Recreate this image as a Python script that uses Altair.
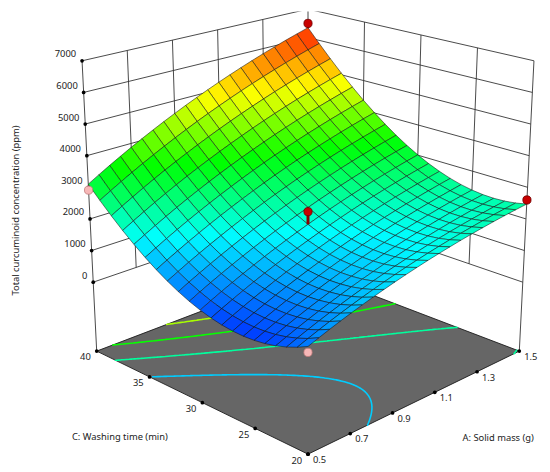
import numpy as np
import pandas as pd
import altair as alt

# ---------------- values ----------------
# fitted quadratic response surface, coded units (x1 = A, x2 = C), in ppm
coef_terms = ["intercept", "A", "C", "AC", "A^2", "C^2"]
coef_values = [2000.0, 1205.0, 1520.0, 420.0, -195.0, 1400.0]

a_range = [0.5, 1.5]
c_range = [20.0, 40.0]
a_ticks = [0.5, 0.7, 0.9, 1.1, 1.3, 1.5]
a_labels = ["0.5", "0.7", "0.9", "1.1", "1.3", "1.5"]
c_ticks = [20.0, 25.0, 30.0, 35.0, 40.0]
c_labels = ["20", "25", "30", "35", "40"]
z_ticks = [0.0, 1000.0, 2000.0, 3000.0, 4000.0, 5000.0, 6000.0, 7000.0]
z_labels = ["0", "1000", "2000", "3000", "4000", "5000", "6000", "7000"]
z_floor = -2180.0
z_top = 7000.0

# design points (red = above the surface, pink = below)
pt_a = [1.5, 1.5, 1.0, 0.5, 0.5]
pt_c = [40.0, 20.0, 30.0, 40.0, 20.0]
pt_z = [6500.0, 2600.0, 2400.0, 2910.0, 730.0]
pt_kind = ["above", "above", "above", "below", "below"]

contour_levels = [1500.0, 2450.0, 3400.0, 4350.0, 5300.0]
mesh_div = 20
colour_stops = ["#0038ff", "#00ffff", "#00ff00", "#ffff00", "#ff1a00"]

title_a = "A: Solid mass (g)"
title_c = "C: Washing time (min)"
title_z = "Total curcuminoid concentration (ppm)"

# ---------------- view (camera) parameters ----------------
VIEW = dict(cx=312.5, half_width=218.0, widen=1.62,
            front_y=380.0, front_rise=35.5,
            side_y=282.8, side_rise=32.1,
            back_y=208.0, back_rise=28.9)
MARGIN = 8
PROJ = dict(type="identity", scale=1, translate=[-MARGIN, -MARGIN])
FONT = "Noto Sans"


def response(a, c):
    x1 = (a - (a_range[0] + a_range[1]) / 2) / ((a_range[1] - a_range[0]) / 2)
    x2 = (c - (c_range[0] + c_range[1]) / 2) / ((c_range[1] - c_range[0]) / 2)
    b0, b1, b2, b12, b11, b22 = coef_values
    return b0 + b1 * x1 + b2 * x2 + b12 * x1 * x2 + b11 * x1 ** 2 + b22 * x2 ** 2


def proj(a, c, z):
    u = (a - a_range[0]) / (a_range[1] - a_range[0])
    v = (c - c_range[0]) / (c_range[1] - c_range[0])
    k = z / 1000.0
    half = VIEW["half_width"] + VIEW["widen"] * k
    x = VIEW["cx"] + half * (u - v)
    yf = VIEW["front_y"] - VIEW["front_rise"] * k
    ys = VIEW["side_y"] - VIEW["side_rise"] * k
    yb = VIEW["back_y"] - VIEW["back_rise"] * k
    y = (1 - u) * (1 - v) * yf + (u + v - 2 * u * v) * ys + u * v * yb
    return [float(x), float(y)]


def feature(gtype, coords, **props):
    return {"type": "Feature", "geometry": {"type": gtype, "coordinates": coords},
            "properties": props}


a0, a1 = a_range
c0, c1 = c_range

# walls
wall_feats = []
for a in a_ticks:
    zs = z_floor if a in (a0, a1) else z_ticks[0]
    wall_feats.append(feature("LineString", [proj(a, c1, zs), proj(a, c1, z_top)]))
for c in c_ticks[:-1]:
    zs = z_floor if c == c0 else z_ticks[0]
    wall_feats.append(feature("LineString", [proj(a1, c, zs), proj(a1, c, z_top)]))
for z in z_ticks:
    wall_feats.append(feature("LineString", [proj(a0, c1, z), proj(a1, c1, z)]))
    wall_feats.append(feature("LineString", [proj(a1, c0, z), proj(a1, c1, z)]))

# floor
ring = [proj(a0, c0, z_floor), proj(a1, c0, z_floor), proj(a1, c1, z_floor),
        proj(a0, c1, z_floor), proj(a0, c0, z_floor)]
floor_feats = [feature("Polygon", [ring])]

# colour scale from model range
ga = np.linspace(a0, a1, 101)
gc = np.linspace(c0, c1, 101)
GA, GC = np.meshgrid(ga, gc, indexing="ij")
GZ = response(GA, GC)
zmin, zmax = float(GZ.min()), float(GZ.max())
colour_scale = alt.Scale(domain=[float(d) for d in np.linspace(zmin, zmax, 5)],
                         range=colour_stops, interpolate="rgb")

# contours on the floor (marching squares)
n = 120
ca = np.linspace(a0, a1, n + 1)
cc = np.linspace(c0, c1, n + 1)
CA, CC = np.meshgrid(ca, cc, indexing="ij")
CZ = response(CA, CC)
contour_feats = []
for level in contour_levels:
    lines = []
    for i in range(n):
        for j in range(n):
            corners = [(CA[i, j], CC[i, j], CZ[i, j]), (CA[i + 1, j], CC[i + 1, j], CZ[i + 1, j]),
                       (CA[i + 1, j + 1], CC[i + 1, j + 1], CZ[i + 1, j + 1]),
                       (CA[i, j + 1], CC[i, j + 1], CZ[i, j + 1])]
            pts = []
            for k in range(4):
                p = corners[k]
                q = corners[(k + 1) % 4]
                if (p[2] - level) * (q[2] - level) < 0:
                    t = (level - p[2]) / (q[2] - p[2])
                    pts.append(proj(p[0] + t * (q[0] - p[0]), p[1] + t * (q[1] - p[1]), z_floor))
            if len(pts) == 2:
                lines.append(pts)
            elif len(pts) == 4:
                lines.append(pts[:2])
                lines.append(pts[2:])
    if lines:
        contour_feats.append(feature("MultiLineString", lines, level=level))

# surface mesh cells, back to front
ma = np.linspace(a0, a1, mesh_div + 1)
mc = np.linspace(c0, c1, mesh_div + 1)
cells = []
for i in range(mesh_div):
    for j in range(mesh_div):
        quad = [(ma[i], mc[j]), (ma[i + 1], mc[j]), (ma[i + 1], mc[j + 1]), (ma[i], mc[j + 1])]
        zs = [response(a, c) for a, c in quad]
        coords = [proj(a, c, z) for (a, c), z in zip(quad, zs)]
        coords.append(coords[0])
        cells.append((i + j, feature("Polygon", [coords], z=float(np.mean(zs)))))
cells.sort(key=lambda t: -t[0])
cell_feats = [f for _, f in cells]

# stems for points above the surface
stem_feats = []
for a, c, z, kind in zip(pt_a, pt_c, pt_z, pt_kind):
    if kind == "above":
        stem_feats.append(feature("LineString", [proj(a, c, response(a, c)), proj(a, c, z)]))

# tick dots and labels
z_df = pd.DataFrame({"lon": [proj(a0, c1, z)[0] for z in z_ticks],
                     "lat": [proj(a0, c1, z)[1] for z in z_ticks], "label": z_labels})
c_df = pd.DataFrame({"lon": [proj(a0, c, z_floor)[0] for c in c_ticks],
                     "lat": [proj(a0, c, z_floor)[1] for c in c_ticks], "label": c_labels})
a_df = pd.DataFrame({"lon": [proj(a, c0, z_floor)[0] for a in a_ticks],
                     "lat": [proj(a, c0, z_floor)[1] for a in a_ticks], "label": a_labels})
dots_df = pd.concat([z_df, c_df, a_df], ignore_index=True)

pts_df = pd.DataFrame({"lon": [proj(a, c, z)[0] for a, c, z in zip(pt_a, pt_c, pt_z)],
                       "lat": [proj(a, c, z)[1] for a, c, z in zip(pt_a, pt_c, pt_z)],
                       "kind": pt_kind})

ta = proj(1.4, c0, z_floor)
tc = proj(a0, 36.5, z_floor)
tz = proj(a0, c1, 2000.0)

enc = dict(longitude="lon:Q", latitude="lat:Q")

walls = alt.Chart(alt.Data(values=wall_feats)).mark_geoshape(
    filled=False, stroke="#333333", strokeWidth=0.9).project(**PROJ)
floor = alt.Chart(alt.Data(values=floor_feats)).mark_geoshape(
    fill="#666666", stroke="#1a1a1a", strokeWidth=0.9).project(**PROJ)
contours = alt.Chart(alt.Data(values=contour_feats)).mark_geoshape(
    filled=False, strokeWidth=1.6, strokeCap="round").encode(
    stroke=alt.Stroke("properties.level:Q", scale=colour_scale, legend=None)).project(**PROJ)
surface = alt.Chart(alt.Data(values=cell_feats)).mark_geoshape(
    stroke="#151515", strokeWidth=0.55).encode(
    fill=alt.Fill("properties.z:Q", scale=colour_scale, legend=None)).project(**PROJ)
stems = alt.Chart(alt.Data(values=stem_feats)).mark_geoshape(
    filled=False, stroke="#8a0000", strokeWidth=3).project(**PROJ)
dots = alt.Chart(dots_df).mark_circle(size=14, color="black", opacity=1).encode(**enc).project(**PROJ)
points = alt.Chart(pts_df).mark_circle(size=70, opacity=1, strokeWidth=0.8).encode(
    fill=alt.Fill("kind:N", scale=alt.Scale(domain=["above", "below"], range=["#c80000", "#f7b7b7"]), legend=None),
    stroke=alt.Stroke("kind:N", scale=alt.Scale(domain=["above", "below"], range=["#6e0000", "#c07a7a"]), legend=None),
    **enc).project(**PROJ)

txt = dict(font=FONT, fontSize=9.5, color="#222222", baseline="middle")
z_text = alt.Chart(z_df).mark_text(align="right", dx=-6, dy=-6.5, **txt).encode(text="label:N", **enc).project(**PROJ)
c_text = alt.Chart(c_df).mark_text(align="right", dx=-6, dy=6.5, **txt).encode(text="label:N", **enc).project(**PROJ)
a_text = alt.Chart(a_df).mark_text(align="left", dx=5, dy=6, **txt).encode(text="label:N", **enc).project(**PROJ)

titles_df = pd.DataFrame({"lon": [ta[0], tc[0]], "lat": [ta[1], tc[1]], "label": [title_a, title_c]})
title_a_chart = alt.Chart(titles_df.iloc[[0]]).mark_text(align="center", dx=0, dy=78, **txt).encode(
    text="label:N", **enc).project(**PROJ)
title_c_chart = alt.Chart(titles_df.iloc[[1]]).mark_text(align="center", dx=-14, dy=69, **txt).encode(
    text="label:N", **enc).project(**PROJ)
zt_df = pd.DataFrame({"lon": [tz[0]], "lat": [tz[1]], "label": [title_z]})
title_z_chart = alt.Chart(zt_df).mark_text(align="center", angle=270, dx=8.6, dy=-75.5, **txt).encode(
    text="label:N", **enc).project(**PROJ)

chart = alt.layer(walls, floor, contours, surface, stems, dots, points,
                  z_text, c_text, a_text, title_a_chart, title_c_chart, title_z_chart).properties(
    width=542, height=464, padding=0, autosize=alt.AutoSizeParams(type="none"), background="white"
).configure_view(stroke=None)

chart.save("out.html", embed_options={"renderer": "svg", "actions": False})
